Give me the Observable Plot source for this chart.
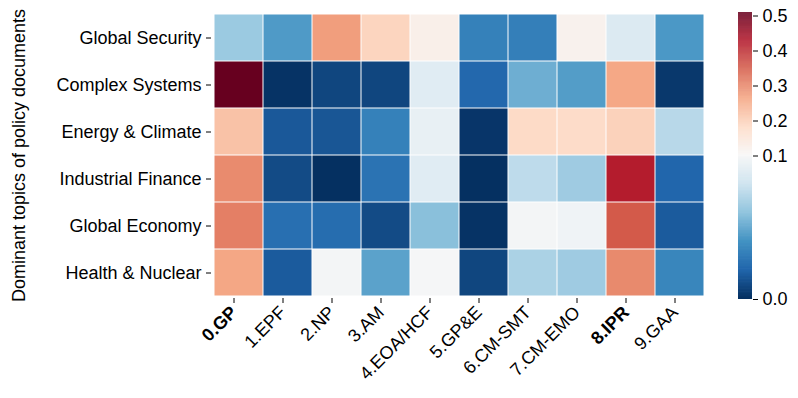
<!DOCTYPE html>
<html><head><meta charset="utf-8">
<script src="https://cdn.jsdelivr.net/npm/d3@7"></script>
<script src="https://cdn.jsdelivr.net/npm/@observablehq/plot@0.6"></script>
<style>
body{margin:0;background:#fff;}
#wrap{position:relative;width:798px;height:398px;background:#fff;}
#main{position:absolute;left:0;top:0;}
#cbar{position:absolute;left:720px;top:0;}
</style></head><body><div id="wrap"><div id="main"></div><div id="cbar"></div></div>
<script>
// ---- data ----
const topics = ["Global Security","Complex Systems","Energy & Climate","Industrial Finance","Global Economy","Health & Nuclear"];
const columns = ["0.GP","1.EPF","2.NP","3.AM","4.EOA/HCF","5.GP&E","6.CM-SMT","7.CM-EMO","8.IPR","9.GAA"];
const boldColumns = ["0.GP","8.IPR"];
const globalSecurity    = [0.063, 0.043, 0.272, 0.191, 0.124, 0.032, 0.031, 0.117, 0.086, 0.042];
const complexSystems    = [0.510, 0.001, 0.008, 0.008, 0.088, 0.021, 0.051, 0.044, 0.259, 0.003];
const energyClimate     = [0.220, 0.015, 0.014, 0.032, 0.092, 0.002, 0.182, 0.179, 0.196, 0.072];
const industrialFinance = [0.295, 0.010, 0.000, 0.026, 0.088, 0.000, 0.074, 0.064, 0.423, 0.020];
const globalEconomy     = [0.309, 0.024, 0.023, 0.010, 0.058, 0.001, 0.098, 0.096, 0.353, 0.016];
const healthNuclear     = [0.261, 0.016, 0.098, 0.046, 0.099, 0.008, 0.068, 0.064, 0.296, 0.034];
const colorTicks = [0.0, 0.1, 0.2, 0.3, 0.4, 0.5];
const colorMin = 0, colorCenter = 0.1, colorMax = 0.51;

// ---- build ----
const rows = [globalSecurity, complexSystems, energyClimate, industrialFinance, globalEconomy, healthNuclear];
const cells = rows.flatMap((vals, i) => vals.map((v, j) => ({topic: topics[i], column: columns[j], value: v})));
const palette = ["#053061","#2166ac","#4393c3","#92c5de","#d1e5f0","#f7f7f7","#fddbc7","#f4a582","#d6604d","#b2182b","#67001f"];
const colorOpts = {type: "diverging", domain: [colorMin, colorMax], pivot: colorCenter, symmetric: false,
  interpolate: d3.piecewise(d3.interpolateRgb, palette)};
const font = "'Liberation Sans', Arial, Helvetica, sans-serif";
const fs = "18px";
const W = 720, H = 398, mT = 12, mB = 100;

const main = Plot.plot({
  width: W, height: H,
  marginLeft: 211, marginRight: 13, marginTop: mT, marginBottom: mB,
  style: {fontFamily: font, fontSize: fs, color: "#000", background: "#fff", overflow: "visible"},
  x: {domain: columns, padding: 0},
  y: {domain: topics, padding: 0},
  color: colorOpts,
  marks: [
    Plot.cell(cells, {x: "column", y: "topic", fill: "value", inset: 0.5}),
    Plot.axisY({tickSize: 5, tickPadding: 5, label: "Dominant topics of policy documents",
      labelAnchor: "center", labelArrow: "none", labelOffset: 199}),
    Plot.axisX(columns.filter(c => !boldColumns.includes(c)), {tickSize: 5, tickRotate: -45, tickPadding: 6, dx: -5, label: null}),
    Plot.axisX(boldColumns, {tickSize: 5, tickRotate: -45, tickPadding: 6, dx: -5, label: null, fontWeight: "bold"})
  ]
});
document.getElementById("main").append(main);

// colorbar: position along the bar follows the two-slope norm of the colour scale
const norm = d3.scaleLinear().domain([colorMin, colorCenter, colorMax]).range([0, 0.5, 1]);
const step = 0.001;
const ramp = d3.range(colorMin, colorMax, step);
const cb = Plot.plot({
  width: 78, height: H,
  marginLeft: 18, marginRight: 46, marginTop: mT, marginBottom: 99,
  style: {fontFamily: font, fontSize: fs, color: "#000", background: "#fff", overflow: "visible"},
  x: {domain: [0, 1], axis: null},
  y: {domain: [0, 1], axis: null},
  color: colorOpts,
  marks: [
    Plot.rect(ramp, {x1: () => 0, x2: () => 1, y1: d => norm(d), y2: d => norm(Math.min(d + step * 1.5, colorMax)), fill: d => d}),
    Plot.axisY(colorTicks.map(norm), {anchor: "right", tickSize: 5, tickPadding: 5,
      tickFormat: t => d3.format(".1f")(norm.invert(t)), label: null})
  ]
});
document.getElementById("cbar").append(cb);
</script></body></html>
